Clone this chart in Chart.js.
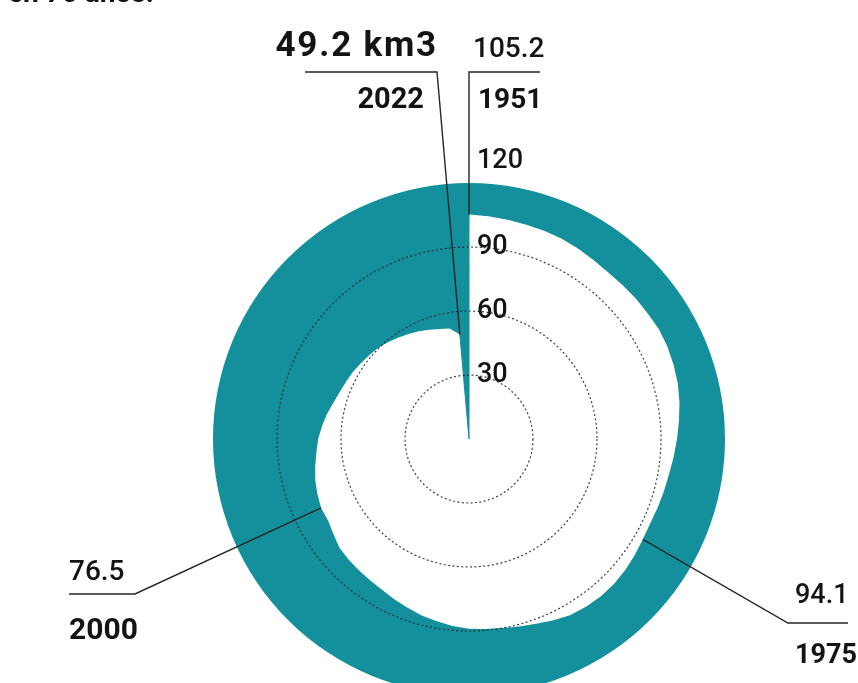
<!DOCTYPE html>
<html lang="es">
<head>
<meta charset="utf-8">
<title>Volumen anual en 70 años</title>
<script src="https://cdn.jsdelivr.net/npm/chart.js@4.4.1/dist/chart.umd.min.js"></script>
<style>
  html, body { margin: 0; padding: 0; background: #fff; overflow: hidden; }
  #wrap { position: relative; width: 858px; height: 720px; }
</style>
</head>
<body>
<div id="wrap"><canvas id="chart"></canvas></div>
<script>
// one spoke per year, clockwise from the top
const years = [
  1951, 1952, 1953, 1954, 1955, 1956, 1957, 1958, 1959, 1960,
  1961, 1962, 1963, 1964, 1965, 1966, 1967, 1968, 1969, 1970,
  1971, 1972, 1973, 1974, 1975, 1976, 1977, 1978, 1979, 1980,
  1981, 1982, 1983, 1984, 1985, 1986, 1987, 1988, 1989, 1990,
  1991, 1992, 1993, 1994, 1995, 1996, 1997, 1998, 1999, 2000,
  2001, 2002, 2003, 2004, 2005, 2006, 2007, 2008, 2009, 2010,
  2011, 2012, 2013, 2014, 2015, 2016, 2017, 2018, 2019, 2020,
  2021, 2022,
]

// volume in km3
const volumes = [
  105.2, 104.8, 104.3, 104.0, 103.8, 103.4, 102.8, 102.2, 101.8, 101.9,
  102.2, 102.4, 102.8, 102.6, 102.0, 101.3, 100.2, 98.8, 97.5, 96.3,
  95.2, 94.6, 94.1, 93.7, 94.1, 94.9, 95.6, 96.1, 96.2, 95.9,
  95.3, 93.8, 92.2, 91.0, 90.0, 89.4, 89.0, 88.0, 86.8, 85.6,
  84.2, 82.9, 81.6, 80.9, 80.3, 79.9, 79.3, 77.6, 76.3, 76.5,
  75.6, 74.6, 73.2, 71.8, 70.7, 69.2, 67.6, 65.8, 64.5, 63.6,
  62.9, 61.9, 61.1, 60.3, 59.2, 58.0, 56.8, 55.7, 54.5, 53.4,
  52.6, 49.2,
]

const tickValues = [30, 60, 90, 120]
const scaleMax = 120

const TEAL = "#13909b"
const INK = "#141414"
const LINE = "#262626"
const FONT = "Roboto, 'Noto Sans', sans-serif"

// the spiral is open between the last year and the first one: that wedge stays teal
const gapVolumes = volumes.map((v, i) => (i === 0 || i === volumes.length - 1 ? v : 0))

function yearIndex(year) {
  return years.indexOf(year)
}

function drawText(ctx, str, x, y, size, weight, align, spacing) {
  ctx.font = `${weight} ${size}px ${FONT}`
  ctx.textAlign = align || "left"
  ctx.letterSpacing = (spacing || 0) + "px"
  ctx.fillText(str, x, y)
}

function polyline(ctx, pts) {
  ctx.beginPath()
  ctx.moveTo(pts[0][0], pts[0][1])
  for (let i = 1; i < pts.length; i++) ctx.lineTo(pts[i][0], pts[i][1])
  ctx.stroke()
}

// teal disc up to the scale maximum, under the white spiral
const ringPlugin = {
  id: "ring",
  beforeDatasetsDraw(chart) {
    const r = chart.scales.r
    const ctx = chart.ctx
    ctx.save()
    ctx.fillStyle = TEAL
    ctx.beginPath()
    ctx.arc(r.xCenter, r.yCenter, r.getDistanceFromCenterForValue(scaleMax), 0, Math.PI * 2)
    ctx.fill()
    ctx.restore()
  },
}

// tick labels, callouts and the cut title line
const labelsPlugin = {
  id: "labels",
  afterDraw(chart) {
    const r = chart.scales.r
    const ctx = chart.ctx
    const cx = r.xCenter
    const cy = r.yCenter
    const at = (year) => {
      const i = yearIndex(year)
      const p = r.getPointPositionForValue(i, volumes[i])
      return [p.x, p.y]
    }
    const val = (year) => volumes[yearIndex(year)].toFixed(1)

    ctx.save()
    ctx.fillStyle = INK

    // title line, mostly cut off by the top edge
    ctx.textBaseline = "alphabetic"
    drawText(ctx, "en 70 años:", 8, 2, 28, 700)

    // scale labels right of the vertical axis
    ctx.textBaseline = "middle"
    tickValues.forEach((v) => {
      const lift = v === scaleMax ? 22 : 0
      drawText(ctx, String(v), cx + 8, cy - r.getDistanceFromCenterForValue(v) - lift, 27, 500)
    })

    ctx.strokeStyle = LINE
    ctx.lineWidth = 1.4
    ctx.textBaseline = "alphabetic"

    // 1951
    const p51 = at(1951)
    polyline(ctx, [[540, 72], [cx, 72], p51])
    drawText(ctx, val(1951), 473, 57, 28, 500)
    drawText(ctx, "1951", 478, 108, 28, 700)

    // 2022
    const p22 = at(2022)
    polyline(ctx, [[305, 72], [437, 72], p22])
    drawText(ctx, val(2022) + " km3", 438, 56, 35, 700, "right", 1.8)
    drawText(ctx, "2022", 424, 108, 29, 700, "right")

    // 1975
    const p75 = at(1975)
    polyline(ctx, [p75, [788, 623], [848, 623]])
    drawText(ctx, val(1975), 795, 603, 27, 500)
    drawText(ctx, "1975", 795, 663, 27, 700)

    // 2000
    const p00 = at(2000)
    polyline(ctx, [p00, [135, 594], [69, 594]])
    drawText(ctx, val(2000), 69, 580, 28, 500)
    drawText(ctx, "2000", 69, 639, 30, 700)

    ctx.restore()
  },
}

new Chart(document.getElementById("chart"), {
  type: "radar",
  data: {
    labels: years,
    datasets: [
      {
        label: "hueco",
        data: gapVolumes,
        backgroundColor: TEAL,
        borderColor: TEAL,
        borderWidth: 1,
        pointRadius: 0,
        fill: "origin",
      },
      {
        label: "Volumen (km3)",
        data: volumes,
        backgroundColor: "#ffffff",
        borderColor: "transparent",
        borderWidth: 0,
        pointRadius: 0,
        fill: "origin",
      },
    ],
  },
  options: {
    responsive: true,
    maintainAspectRatio: false,
    animation: false,
    layout: { padding: { top: 183, left: 89, right: 9, bottom: 25 } },
    plugins: {
      legend: { display: false },
      tooltip: { enabled: false },
    },
    elements: { line: { tension: 0 } },
    scales: {
      r: {
        min: 0,
        max: scaleMax,
        startAngle: 0,
        ticks: { display: false, stepSize: 30 },
        pointLabels: { display: false },
        angleLines: { display: false },
        grid: {
          circular: true,
          z: 1,
          color: "rgba(30, 30, 45, 0.85)",
          lineWidth: (c) => (c.tick && c.tick.value >= scaleMax ? 0 : 1.2),
        },
        border: { dash: [2, 2.4] },
      },
    },
  },
  plugins: [ringPlugin, labelsPlugin],
})
</script>
</body>
</html>
